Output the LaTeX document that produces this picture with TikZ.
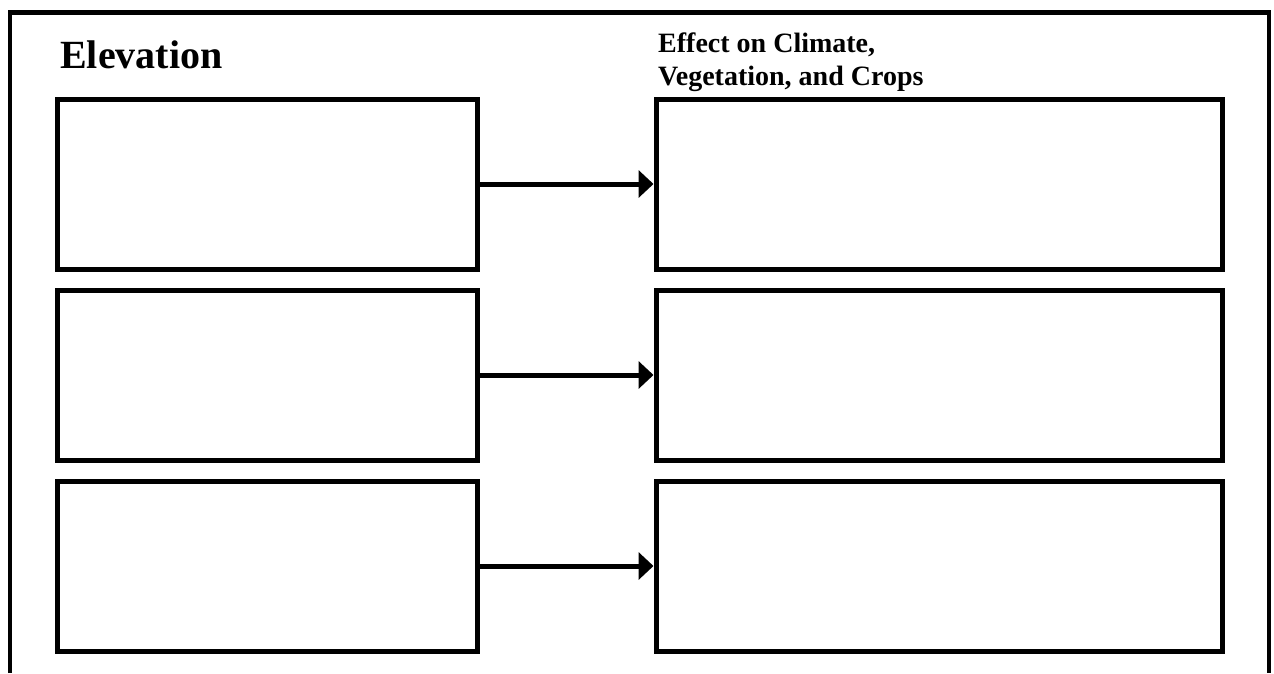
\documentclass[tikz,border=0pt]{standalone}
\usepackage{fontspec}
\setmainfont{Liberation Serif}
\usetikzlibrary{arrows.meta}
\tikzstyle{frame}=[draw,line width=4.5pt]
\tikzstyle{cell}=[draw,line width=5pt,minimum height=170pt,inner sep=0pt]
\tikzstyle{left cell} = [cell, minimum width=420pt]
\tikzstyle{right cell} = [cell, minimum width=566.5pt]
\tikzstyle{link} = [draw,line width=5pt,-{Triangle[length=15pt,width=27pt]}]

\begin{document}
\begin{tikzpicture}[x=1pt,y=-1pt]
    \useasboundingbox (0,0) rectangle (1274,673);
    % Draw the open frame round the chart
    \path[frame] (10,673) -- (10,12.5) -- (1269,12.5) -- (1269,673);
    % Then the two headings
    \node[anchor=base west,inner sep=0pt,font=\bfseries\fontsize{40}{48}\selectfont] (elev) at (60,68) {Elevation};
    \node[anchor=base west,inner sep=0pt,font=\bfseries\fontsize{28}{33}\selectfont] (effect) at (658,52)
        {\begin{tabular}[t]{@{}l@{}}Effect on Climate,\\Vegetation, and Crops\end{tabular}};
    
    % Rows of boxes, joined by arrows
    \foreach \y/\n in {184/1, 375/2, 566/3} {
        \node[left cell] (elev\n) at (267.5,\y) {};
        \node[right cell] (effect\n) at (939.25,\y) {};
        \path[link] (elev\n) -- (effect\n);
    }
\end{tikzpicture}
\end{document}
